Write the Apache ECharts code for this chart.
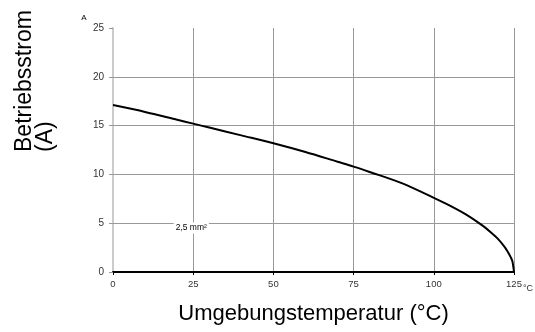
<!DOCTYPE html>
<html><head><meta charset="utf-8">
<script src="https://cdn.jsdelivr.net/npm/echarts@6/dist/echarts.min.js"></script>
<style>html,body{margin:0;padding:0;background:#fff}#c{width:535px;height:332px}</style>
</head><body><div id="c"></div>
<script>
var temps = [0, 10, 20, 25, 30, 40, 50, 60, 70, 75, 80, 90, 100, 105, 110, 115, 118, 120, 122, 123, 124, 124.5, 125];
var current = [17.1, 16.4, 15.6, 15.2, 14.8, 14.0, 13.2, 12.3, 11.3, 10.8, 10.25, 9.1, 7.6, 6.8, 5.9, 4.8, 4.0, 3.4, 2.6, 2.1, 1.5, 1.1, 0];
var xTicks = [0, 25, 50, 75, 100, 125];
var yTicks = [0, 5, 10, 15, 20, 25];
var hGrid = [5, 10, 15, 20];
var annotation = {text: '2,5 mm²', x: 24.4, y: 4.5};
var xTitle = 'Umgebungstemperatur (°C)';
var yTitle1 = 'Betriebsstrom';
var yTitle2 = '(A)';
var yUnit = 'A';
var xUnit = '°C';

var FONT = 'Liberation Sans, Arial, Helvetica, sans-serif';
var chart = echarts.init(document.getElementById('c'));
var data = temps.map(function (t, i) { return [t, current[i]]; });
chart.setOption({
  animation: false,
  backgroundColor: '#fff',
  grid: {left: 113, right: 21, top: 28, bottom: 60},
  xAxis: {
    type: 'value', min: xTicks[0], max: xTicks[xTicks.length - 1], interval: 25,
    axisLine: {show: true, lineStyle: {color: '#000', width: 2}},
    axisTick: {show: true, length: 3, lineStyle: {color: '#000', width: 1}},
    axisLabel: {color: '#333', fontSize: 9.5, fontFamily: FONT, margin: 7},
    splitLine: {show: true, lineStyle: {color: '#999', width: 1}},
    name: xTitle, nameLocation: 'middle', nameGap: 31,
    nameTextStyle: {color: '#000', fontSize: 22, fontFamily: FONT}
  },
  yAxis: {
    type: 'value', min: yTicks[0], max: yTicks[yTicks.length - 1], interval: 5,
    axisLine: {show: true, lineStyle: {color: '#ccc', width: 2}},
    axisTick: {show: true, length: 4, lineStyle: {color: '#999', width: 1}},
    axisLabel: {color: '#333', fontSize: 10, fontFamily: FONT, margin: 9},
    splitLine: {show: false}
  },
  series: [{
    type: 'line', data: data, smooth: 0.3, symbol: 'none',
    lineStyle: {color: '#000', width: 2},
    z: 5,
    markLine: {
      silent: true, symbol: 'none', animation: false,
      label: {show: false},
      lineStyle: {color: '#999', width: 1, type: 'solid'},
      data: hGrid.map(function (v) { return {yAxis: v}; }),
      z: 1
    },
    markPoint: {
      symbol: 'circle', symbolSize: 0,
      data: [{coord: [annotation.x, annotation.y]}],
      label: {show: true, position: 'inside', formatter: annotation.text,
        color: '#000', fontSize: 8.5, fontFamily: FONT,
        backgroundColor: '#fff', padding: [1, 2]}
    }
  }],
  graphic: [
    {type: 'text', x: 25, y: 152, rotation: Math.PI / 2,
      style: {text: yTitle1, font: '23px ' + FONT, fill: '#000', textAlign: 'left', textVerticalAlign: 'middle'}},
    {type: 'text', x: 46, y: 152, rotation: Math.PI / 2,
      style: {text: yTitle2, font: '23px ' + FONT, fill: '#000', textAlign: 'left', textVerticalAlign: 'middle'}},
    {type: 'text', x: 84, y: 18,
      style: {text: yUnit, font: '8px ' + FONT, fill: '#000', textAlign: 'center', textVerticalAlign: 'middle'}},
    {type: 'text', x: 523, y: 289,
      style: {text: xUnit, font: '9px ' + FONT, fill: '#333', textAlign: 'left', textVerticalAlign: 'middle'}}
  ]
});
</script></body></html>
